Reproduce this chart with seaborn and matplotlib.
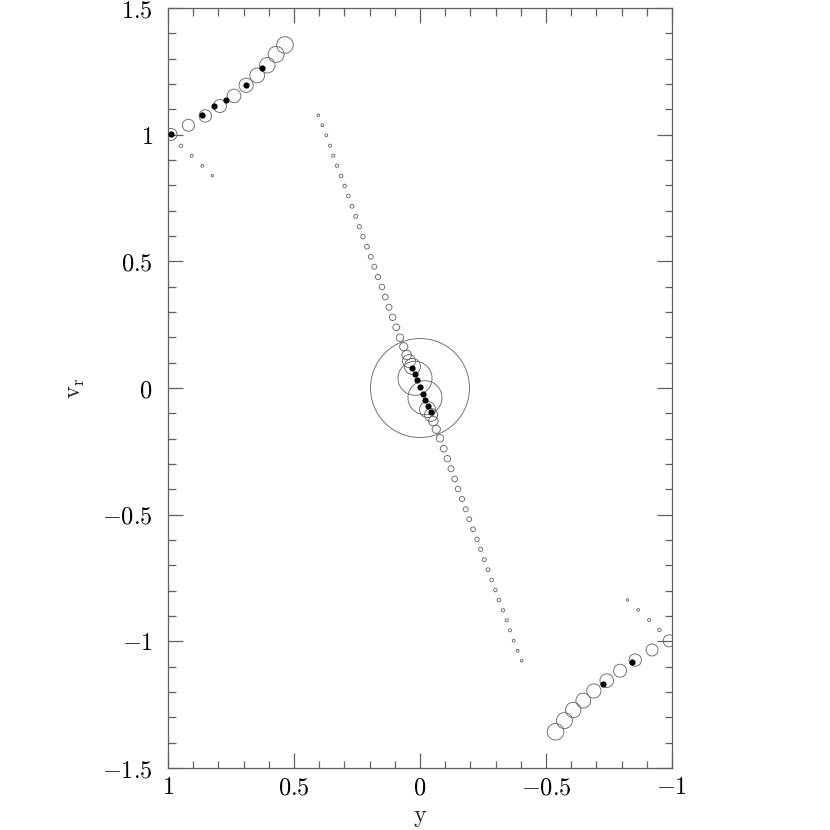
import numpy as np
import pandas as pd
import matplotlib
matplotlib.use("Agg")
import matplotlib.pyplot as plt
import seaborn as sns
from matplotlib.ticker import FixedLocator, FixedFormatter, MultipleLocator

# ---------------- data ----------------
# central particle line (open circles), x = y-coordinate, v = v_r, h = smoothing radius (px)
line_x = [0.4036, 0.3877, 0.3718, 0.3571, 0.3440, 0.3294, 0.3135, 0.2988, 0.2845, 0.2698,
          0.2552, 0.2409, 0.2262, 0.2103, 0.1956, 0.1813, 0.1667, 0.1508, 0.1377, 0.1230,
          0.1083, 0.0940, 0.0794, 0.0647, 0.0528,
          -0.0528, -0.0647, -0.0794, -0.0940, -0.1083, -0.1230, -0.1377, -0.1508, -0.1667, -0.1813,
          -0.1956, -0.2103, -0.2262, -0.2409, -0.2552, -0.2698, -0.2845, -0.2988, -0.3135, -0.3294,
          -0.3440, -0.3571, -0.3718, -0.3877, -0.4036]
line_v = [1.0764, 1.0370, 0.9975, 0.9565, 0.9170, 0.8775, 0.8369, 0.7974, 0.7579, 0.7173,
          0.6778, 0.6368, 0.5973, 0.5578, 0.5184, 0.4789, 0.4382, 0.3987, 0.3592, 0.3186,
          0.2791, 0.2396, 0.1985, 0.1630, 0.1303,
          -0.1303, -0.1630, -0.1985, -0.2396, -0.2791, -0.3186, -0.3592, -0.3987, -0.4382, -0.4789,
          -0.5184, -0.5578, -0.5973, -0.6368, -0.6778, -0.7173, -0.7579, -0.7974, -0.8369, -0.8775,
          -0.9170, -0.9565, -0.9975, -1.0370, -1.0764]
line_h = [1.3, 1.35, 1.4, 1.5, 1.55, 1.6, 1.7, 1.75, 1.8, 1.9, 2.0, 2.1, 2.2, 2.3, 2.4, 2.5,
          2.6, 2.75, 2.9, 3.0, 3.2, 3.4, 3.7, 4.1, 4.8,
          4.8, 4.1, 3.7, 3.4, 3.2, 3.0, 2.9, 2.75, 2.6, 2.5, 2.4, 2.3, 2.2, 2.1, 2.0, 1.9,
          1.8, 1.75, 1.7, 1.6, 1.55, 1.5, 1.4, 1.35, 1.3]

# outer branches (large open circles)
outer_x = [0.988, 0.919, 0.852, 0.794, 0.738, 0.690, 0.646, 0.606, 0.571, 0.536,
           -0.989, -0.921, -0.854, -0.794, -0.741, -0.690, -0.648, -0.608, -0.573, -0.538]
outer_v = [1.001, 1.037, 1.074, 1.113, 1.153, 1.195, 1.234, 1.274, 1.317, 1.354,
           -0.998, -1.034, -1.074, -1.116, -1.155, -1.196, -1.234, -1.271, -1.313, -1.357]
outer_h = [6.0, 6.0, 6.2, 6.5, 6.8, 7.1, 7.4, 7.7, 8.0, 8.3,
           6.0, 6.0, 6.2, 6.5, 6.8, 7.1, 7.4, 7.7, 8.0, 8.3]

# trailing small particles near the edges
tail_x = [0.948, 0.906, 0.864, 0.824, -0.823, -0.866, -0.909, -0.950]
tail_v = [0.956, 0.917, 0.877, 0.838, -0.837, -0.876, -0.916, -0.955]
tail_h = [1.7, 1.5, 1.35, 1.2, 1.2, 1.35, 1.5, 1.7]

# central large particles
core_x = [0.0, 0.0198, -0.0198, 0.0437, -0.0437, 0.030, -0.030]
core_v = [0.0, 0.0383, -0.0383, 0.1066, -0.1066, 0.085, -0.085]
core_h = [49.5, 17.0, 17.0, 6.5, 6.5, 8.0, 8.0]

# filled particles
fill_x = [0.988, 0.865, 0.817, 0.770, 0.690, 0.627,
          0.0317, 0.0198, 0.0119, 0.0, -0.0119, -0.0198, -0.0317, -0.0437,
          -0.840, -0.727]
fill_v = [1.003, 1.078, 1.113, 1.137, 1.196, 1.263,
          0.0789, 0.0553, 0.0316, 0.0039, -0.0237, -0.0474, -0.0711, -0.0947,
          -1.080, -1.170]

xticks = [1, 0.5, 0, -0.5, -1]
xtick_labels = [r"$1$", r"$0.5$", r"$0$", r"$-0.5$", r"$-1$"]
yticks = [-1.5, -1, -0.5, 0, 0.5, 1, 1.5]
ytick_labels = [r"$-1.5$", r"$-1$", r"$-0.5$", r"$0$", r"$0.5$", r"$1$", r"$1.5$"]

# ---------------- style ----------------
sns.set_style("ticks")
plt.rcParams["mathtext.fontset"] = "cm"
plt.rcParams["font.family"] = ["DejaVu Serif"]

DPI = 100
PX2PT = 72.0 / DPI
EDGE = "#6a6a6a"
FRAME = "#606060"

fig = plt.figure(figsize=(8.3, 8.3), dpi=DPI)
ax = fig.add_axes([168 / 830, 62 / 830, 504 / 830, 760 / 830])


def circles(x, v, h, filled=False, z=2):
    df = pd.DataFrame({"x": x, "v": v})
    if filled:
        sns.scatterplot(data=df, x="x", y="v", s=(6.2 * PX2PT) ** 2, color="black",
                        edgecolor="black", linewidth=0, ax=ax, legend=False, zorder=z,
                        clip_on=True)
    else:
        s = (2 * np.asarray(h) * PX2PT) ** 2
        sns.scatterplot(data=df, x="x", y="v", s=s, facecolors="none", edgecolor=EDGE,
                        linewidth=0.65, ax=ax, legend=False, zorder=z, clip_on=True)


circles(line_x, line_v, line_h)
circles(outer_x, outer_v, outer_h)
circles(tail_x, tail_v, tail_h)
circles(core_x, core_v, core_h)
circles(fill_x, fill_v, None, filled=True, z=3)

ax.set_xlim(1, -1)
ax.set_ylim(-1.5, 1.5)
ax.xaxis.set_major_locator(FixedLocator(xticks))
ax.xaxis.set_major_formatter(FixedFormatter(xtick_labels))
ax.yaxis.set_major_locator(FixedLocator(yticks))
ax.yaxis.set_major_formatter(FixedFormatter(ytick_labels))
ax.xaxis.set_minor_locator(MultipleLocator(0.1))
ax.yaxis.set_minor_locator(MultipleLocator(0.1))

ax.tick_params(which="both", direction="in", top=True, right=True, color=FRAME, width=0.9)
ax.tick_params(which="major", length=15 * PX2PT, labelsize=17.5, labelcolor="black")
ax.tick_params(which="minor", length=7.5 * PX2PT)
ax.tick_params(axis="x", which="major", pad=6)
ax.tick_params(axis="y", which="major", pad=11)
for sp in ax.spines.values():
    sp.set_color(FRAME)
    sp.set_linewidth(0.9)

ax.set_xlabel(r"$\mathrm{y}$", fontsize=17.5, labelpad=5)
ax.set_ylabel(r"$\mathrm{v}_\mathrm{r}$", fontsize=17.5, labelpad=11)

fig.savefig("out.png", dpi=DPI)
